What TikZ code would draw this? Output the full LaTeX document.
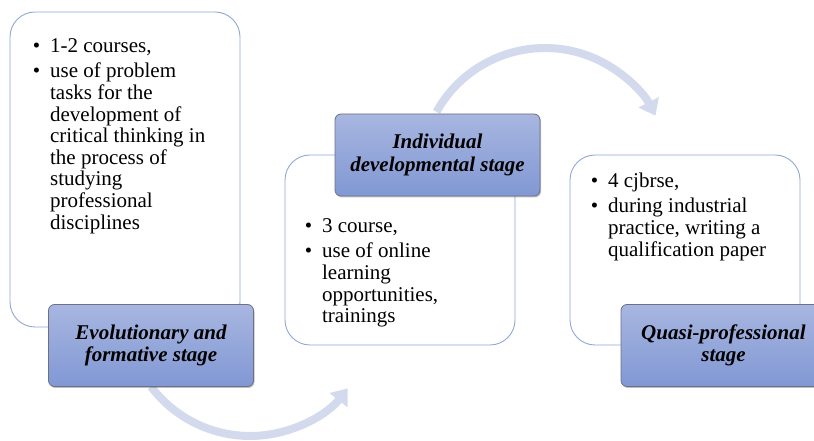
\documentclass[tikz,border=0pt]{standalone}
\usepackage{fontspec}
\setmainfont{Liberation Serif}
\usetikzlibrary{arrows.meta,shadows}
\definecolor{boxline}{HTML}{8FA7DA}
\definecolor{labtop}{HTML}{A8B6E0}
\definecolor{labbot}{HTML}{8198D4}
\definecolor{labline}{HTML}{6B7088}
\definecolor{arrowc}{HTML}{D4DAEE}
\tikzset{
  infobox/.style={draw=boxline, line width=0.9pt, fill=white, rounded corners=25pt, minimum width=230pt, inner sep=0pt},
  stagebox/.style={draw=labline, line width=0.8pt, rounded corners=6pt, top color=labtop, bottom color=labbot,
     minimum width=205pt, minimum height=82pt, inner sep=0pt, align=center,
     font=\fontsize{21}{22.5}\selectfont\bfseries\itshape,
     drop shadow={shadow xshift=1pt, shadow yshift=-1.5pt, opacity=0.25, fill=black}},
  itemtext/.style={anchor=base west, inner sep=0pt, font=\fontsize{21}{21.6}\selectfont},
  cycarrow/.style={draw=arrowc, line width=8pt, -{Triangle[width=22pt,length=15pt]}}
}
\newcommand{\itm}[1]{\textbullet & #1}
\begin{document}
\begin{tikzpicture}[x=1pt,y=1pt]
\useasboundingbox (0,0) rectangle (814,441);
% arrows
\coordinate (a1s) at (151,54.4);
\coordinate (a2s) at (436.5,329.1);
\draw[cycarrow] (a1s) arc[start angle=217, end angle=322, radius=124];
\draw[cycarrow] (a2s) arc[start angle=151, end angle=27, radius=124];
% info boxes
\node[infobox, minimum height=315pt] (b1) at (125,271.5) {};
\node[infobox, minimum height=190pt] (b2) at (400,191) {};
\node[infobox, minimum height=190pt] (b3) at (685,191) {};
% texts
\node[itemtext] (t1) at (32.6,388) {\begin{tabular}[t]{@{}l@{\hspace{10pt}}l@{}}
\itm{1-2 courses,}\\[3.4pt]
\itm{use of problem}\\
 & tasks for the\\
 & development of\\
 & critical thinking in\\
 & the process of\\
 & studying\\
 & professional\\
 & disciplines
\end{tabular}};
\node[itemtext] (t2) at (304.6,208) {\begin{tabular}[t]{@{}l@{\hspace{10pt}}l@{}}
\itm{3 course,}\\[3.4pt]
\itm{use of online}\\
 & learning\\
 & opportunities,\\
 & trainings
\end{tabular}};
\node[itemtext] (t3) at (590.6,253) {\begin{tabular}[t]{@{}l@{\hspace{10pt}}l@{}}
\itm{4 cjbrse,}\\[3.4pt]
\itm{during industrial}\\
 & practice, writing a\\
 & qualification paper
\end{tabular}};
% stage labels
\node[stagebox] (l1) at (151,95.5) {Evolutionary and\\formative stage};
\node[stagebox] (l2) at (437.5,286) {Individual\\developmental stage};
\node[stagebox] (l3) at (723.5,95.5) {Quasi-professional\\stage};
\end{tikzpicture}
\end{document}
